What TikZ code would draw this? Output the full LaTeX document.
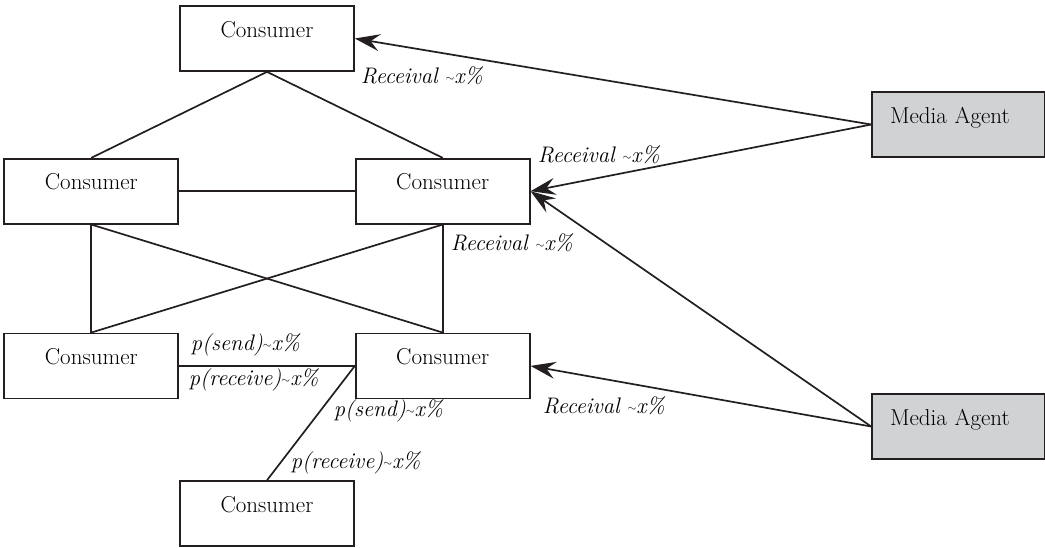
\documentclass[tikz,border=0pt]{standalone}
\usepackage{tikz}
\usetikzlibrary{arrows.meta, positioning, calc}

\definecolor{agentgray}{HTML}{D1D2D4}
\definecolor{inkblack}{HTML}{231F20}
\newcommand{\apx}{\raisebox{0.09em}{\scalebox{0.55}{$\sim$}}}

\begin{document}
\begin{tikzpicture}[
  x=1pt, y=-1pt,
  line width=1.7pt,
  draw=inkblack,
  consumer/.style={
    rectangle,
    draw=inkblack,
    inner sep=0pt,
    minimum width=174pt,
    text height=31pt,
    text depth=34pt,
    font=\fontsize{23}{27}\selectfont,
  },
  agent/.style={
    consumer,
    fill=agentgray,
    minimum width=173pt,
    text width=137pt,
    align=left,
  },
  rate/.style={
    inner sep=0pt,
    anchor=west,
    font=\itshape\fontsize{22.5}{27}\selectfont,
  },
  link/.style={inkblack},
  arrow/.style={-{Stealth[length=25pt, width=17pt, inset=9pt]}, inkblack}
]
\useasboundingbox (0,0) rectangle (1045,547);

% ===== CONSUMER NETWORK =====
\node[consumer] (c0) at (267,38.5) {Consumer};
\node[consumer, below left=86pt and 0pt of c0] (c1) {Consumer};
\node[consumer, below right=86pt and 0pt of c0] (c2) {Consumer};
\node[consumer, below=108pt of c1] (c3) {Consumer};
\node[consumer, below=108pt of c2] (c4) {Consumer};
\node[consumer, below left=81pt and 0pt of c4] (c5) {Consumer};

% ===== MEDIA AGENTS =====
\node[agent] (m1) at (958.5,124.5) {Media Agent};
\node[agent] (m2) at (958.5,426.5) {Media Agent};

% ===== PEER LINKS =====
\draw[link] (c0.south) -- (c1.north);
\draw[link] (c0.south) -- (c2.north);
\draw[link] (c1.east) -- (c2.west);
\draw[link] (c1.south) -- (c3.north);
\draw[link] (c2.south) -- (c4.north);
\draw[link] (c1.south) -- (c4.north);
\draw[link] (c2.south) -- (c3.north);
\draw[link] (c3.east) -- (c4.west);
\draw[link] (c4.west) -- (c5.north);

% ===== MEDIA ARROWS =====
\draw[arrow] (m1.west) -- (c0.east);
\draw[arrow] (m1.west) -- (c2.east);
\draw[arrow] (m2.west) -- (c2.east);
\draw[arrow] (m2.west) -- (c4.east);

% ===== RATE LABELS =====
\node[rate] (r1) at (360,76) {Receival \apx x\%};
\node[rate] (r2) at (537,155) {Receival \apx x\%};
\node[rate] (r3) at (450,243) {Receival \apx x\%};
\node[rate] (r4) at (542,406) {Receival \apx x\%};
\node[rate] (ps1) at (190,345) {p(send)\apx x\%};
\node[rate] (pr1) at (188,380) {p(receive)\apx x\%};
\node[rate] (ps2) at (333,411) {p(send)\apx x\%};
\node[rate] (pr2) at (290,463) {p(receive)\apx x\%};

\end{tikzpicture}
\end{document}
